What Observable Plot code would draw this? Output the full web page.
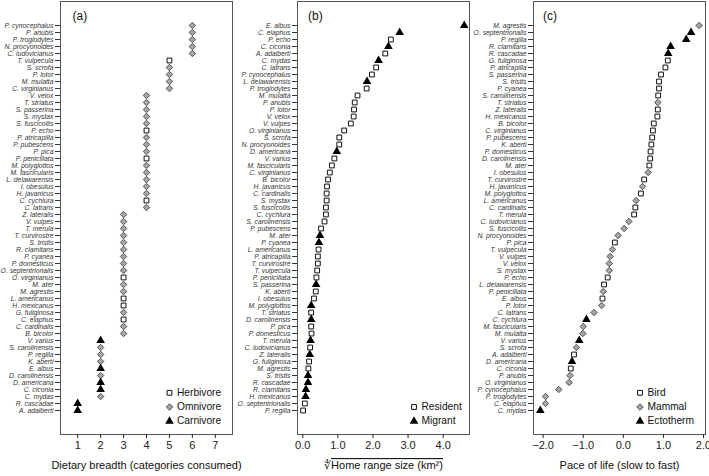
<!DOCTYPE html>
<html><head><meta charset="utf-8">
<script src="https://cdn.jsdelivr.net/npm/d3@7"></script>
<script src="https://cdn.jsdelivr.net/npm/@observablehq/plot@0.6"></script>
<style>
body{margin:0;background:#fff;font-family:"Liberation Sans",Arial,sans-serif;}
#wrap{display:flex;width:709px;height:476px;}
#wrap svg{overflow:visible;flex:none;}
</style></head><body><div id="wrap"></div>
<script>
// ---------- Panel (a): dietary breadth ----------
const dietSpecies = ["P. cynocephalus","P. anubis","P. troglodytes","N. procyonoides","C. ludovicianus","T. vulpecula","S. scrofa","P. lotor","M. mulatta","C. virginianus","V. velox","T. striatus","S. passerina","S. mystax","S. fuscicollis","P. echo","P. atricapilla","P. pubescens","P. pica","P. penicillata","M. polyglottos","M. fascicularis","L. delawarensis","I. obesulus","H. javanicus","C. cychlura","C. latrans","Z. lateralis","V. vulpes","T. merula","T. curvirostre","S. tristis","R. clamitans","P. cyanea","P. domesticus","O. septentrionalis","O. virginianus","M. ater","M. agrestis","L. americanus","H. mexicanus","G. fuliginosa","C. elaphus","C. cardinalis","B. bicolor","V. varius","S. carolinensis","P. regilla","K. aberti","E. albus","D. carolinensis","D. americana","C. ciconia","C. mydas","R. cascadae","A. adalberti"];
const dietValues = [6,6,6,6,6,5,5,5,5,5,4,4,4,4,4,4,4,4,4,4,4,4,4,4,4,4,4,3,3,3,3,3,3,3,3,3,3,3,3,3,3,3,3,3,3,2,2,2,2,2,2,2,2,2,1,1];
const dietGroup = ["O","O","O","O","O","H","O","O","O","O","O","O","O","O","O","H","O","O","O","H","O","O","O","O","O","H","O","O","O","O","O","O","O","O","O","O","H","O","O","H","H","O","H","O","O","C","O","O","O","C","O","C","C","O","C","C"];
const dietTicks = [1,2,3,4,5,6,7];
const dietLegend = [["H","Herbivore"],["O","Omnivore"],["C","Carnivore"]];

// ---------- Panel (b): home range size ----------
const rangeSpecies = ["E. albus","C. elaphus","P. echo","C. ciconia","A. adalberti","C. mydas","C. latrans","P. cynocephalus","L. delawarensis","P. troglodytes","M. mulatta","P. anubis","P. lotor","V. velox","V. vulpes","O. virginianus","S. scrofa","N. procyonoides","D. americana","V. varius","M. fascicularis","C. virginianus","B. bicolor","H. javanicus","C. cardinalis","S. mystax","S. fuscicollis","C. cychlura","S. carolinensis","P. pubescens","M. ater","P. cyanea","L. americanus","P. atricapilla","T. curvirostre","T. vulpecula","P. penicillata","S. passerina","K. aberti","I. obesulus","M. polyglottos","T. striatus","D. carolinensis","P. pica","P. domesticus","T. merula","C. ludovicianus","Z. lateralis","G. fuliginosa","M. agrestis","S. tristis","R. cascadae","R. clamitans","H. mexicanus","O. septentrionalis","P. regilla"];
const rangeValues = [4.6,2.76,2.51,2.44,2.35,2.16,2.09,1.97,1.83,1.82,1.56,1.48,1.46,1.45,1.37,1.18,1.04,1.04,0.97,0.9,0.83,0.77,0.72,0.69,0.68,0.68,0.66,0.66,0.62,0.52,0.49,0.46,0.45,0.43,0.43,0.41,0.39,0.38,0.37,0.32,0.24,0.24,0.24,0.24,0.25,0.22,0.21,0.2,0.18,0.16,0.15,0.15,0.09,0.08,0.06,0.01];
const rangeGroup = ["M","M","R","M","R","M","R","R","M","R","R","R","R","R","R","R","R","R","M","R","R","R","R","R","R","R","R","R","R","R","M","M","R","R","R","R","R","M","R","R","M","R","M","R","R","M","R","M","R","R","M","M","M","M","R","R"];
const rangeTicks = [0,1,2,3,4];
const rangeLegend = [["R","Resident"],["M","Migrant"]];

// ---------- Panel (c): pace of life ----------
const paceSpecies = ["M. agrestis","O. septentrionalis","P. regilla","R. clamitans","R. cascadae","G. fuliginosa","P. atricapilla","S. passerina","S. tristis","P. cyanea","S. carolinensis","T. striatus","Z. lateralis","H. mexicanus","B. bicolor","C. virginianus","P. pubescens","K. aberti","P. domesticus","D. carolinensis","M. ater","I. obesulus","T. curvirostre","H. javanicus","M. polyglottos","L. americanus","C. cardinalis","T. merula","C. ludovicianus","S. fuscicollis","N. procyonoides","P. pica","T. vulpecula","V. vulpes","V. velox","S. mystax","P. echo","L. delawarensis","P. penicillata","E. albus","P. lotor","C. latrans","C. cychlura","M. fascicularis","M. mulatta","V. varius","S. scrofa","A. adalberti","D. americana","C. ciconia","P. anubis","O. virginianus","P. cynocephalus","P. troglodytes","C. elaphus","C. mydas"];
const paceValues = [1.89,1.69,1.57,1.18,1.12,1.11,1.05,0.94,0.89,0.89,0.87,0.86,0.86,0.85,0.76,0.74,0.72,0.7,0.68,0.67,0.65,0.62,0.52,0.48,0.44,0.32,0.3,0.27,0.14,0.02,-0.13,-0.21,-0.27,-0.33,-0.35,-0.35,-0.39,-0.48,-0.5,-0.52,-0.54,-0.73,-0.92,-1.0,-1.01,-1.1,-1.17,-1.23,-1.28,-1.31,-1.33,-1.35,-1.61,-1.94,-1.94,-2.07];
const paceGroup = ["Ma","E","E","E","E","B","B","B","B","B","B","Ma","B","B","B","B","B","B","B","B","B","Ma","B","Ma","B","Ma","B","B","Ma","Ma","Ma","B","Ma","Ma","Ma","Ma","B","B","Ma","B","Ma","Ma","E","Ma","Ma","E","Ma","B","E","B","Ma","Ma","Ma","Ma","Ma","E"];
const paceTicks = [-2,-1,0,1,2];
const paceLegend = [["B","Bird"],["Ma","Mammal"],["E","Ectotherm"]];

// marker styles
const SQUARE = {symbol:"square", fill:"white", stroke:"#111", strokeWidth:1, r:2.7};
const DIAMOND = {symbol:"diamond2", fill:"#a6a6a6", stroke:"#444", strokeWidth:0.9, r:2.9};
const TRIANGLE = {symbol:"triangle", fill:"#000", stroke:"none", r:3.2};
const styleOf = {H:SQUARE, O:DIAMOND, C:TRIANGLE, R:SQUARE, M:TRIANGLE, B:SQUARE, Ma:DIAMOND, E:TRIANGLE};

function panel({species, values, groups, domain, ticks, label, tag, tagDx, legend, legendDx, legendTextDx, width, marginLeft, marginRight}) {
  const data = species.map((s, i) => ({s, v: values[i], g: groups[i]}));
  const marks = [];
  marks.push(Plot.frame({stroke:"#555", strokeWidth:1}));
  marks.push(Plot.axisY({tickSize:5, tickPadding:2, fontSize:6.8, fontStyle:"italic", color:"#333", label:null}));
  marks.push(Plot.axisX({ticks, tickSize:4, tickPadding:3, fontSize:11, color:"#222", label:null}));
  for (const g of [...new Set(groups)]) {
    marks.push(Plot.dot(data.filter(d => d.g === g), {x:"v", y:"s", ...styleOf[g]}));
  }
  // legend inside the frame (bottom-right)
  const n = legend.length;
  legend.forEach(([g, name], i) => {
    const dy = -13.3 - 14.2 * (n - 1 - i);
    marks.push(Plot.dot([name], {frameAnchor:"bottom-right", dx:legendDx, dy, ...styleOf[g]}));
    marks.push(Plot.text([name], {frameAnchor:"bottom-right", dx:legendTextDx, dy, text:d=>d, textAnchor:"start", lineAnchor:"middle", fontSize:10.2, fill:"#111"}));
  });
  marks.push(Plot.text([tag], {frameAnchor:"top-left", dx:tagDx, dy:15, text:d=>d, textAnchor:"start", lineAnchor:"middle", fontSize:12, fill:"#111"}));
  marks.push(Plot.text([label], {frameAnchor:"bottom", dy:31, text:d=>d, textAnchor:"middle", lineAnchor:"middle", fontSize:11, fill:"#111"}));
  return Plot.plot({
    width, height:476, marginTop:1, marginBottom:42, marginLeft, marginRight,
    style:{fontFamily:"'Liberation Sans', Arial, sans-serif", background:"transparent", overflow:"visible"},
    x:{domain},
    y:{type:"point", domain:species, padding:2.1},
    marks
  });
}

const wrap = document.getElementById("wrap");
wrap.append(panel({species:dietSpecies, values:dietValues, groups:dietGroup, domain:[0.25,7.75], ticks:dietTicks,
  label:"Dietary breadth (categories consumed)", tag:"(a)", tagDx:12, legend:dietLegend, legendDx:-63, legendTextDx:-55.5,
  width:236, marginLeft:60, marginRight:4}));
const pb = panel({species:rangeSpecies, values:rangeValues, groups:rangeGroup, domain:[-0.15,4.75], ticks:rangeTicks,
  label:"Home range size (km²)", tag:"(b)", tagDx:10.5, legend:rangeLegend, legendDx:-55.5, legendTextDx:-48,
  width:236, marginLeft:61, marginRight:3});
wrap.append(pb);
wrap.append(panel({species:paceSpecies, values:paceValues, groups:paceGroup, domain:[-2.24,2.05], ticks:paceTicks,
  label:"Pace of life (slow to fast)", tag:"(c)", tagDx:9.5, legend:paceLegend, legendDx:-65.5, legendTextDx:-58,
  width:237, marginLeft:61, marginRight:4}));

// fourth-root radical on panel (b) axis title
d3.select(pb).selectAll("text").filter(function(){ return this.textContent === "Home range size (km²)"; })
  .each(function(){
    const t = d3.select(this);
    t.text(null);
    t.append("tspan").attr("font-family","'DejaVu Sans', sans-serif").attr("font-size", 11).text("∜");
    t.append("tspan").style("text-decoration","overline").text("Home range size (km²)");
  });
</script></body></html>
